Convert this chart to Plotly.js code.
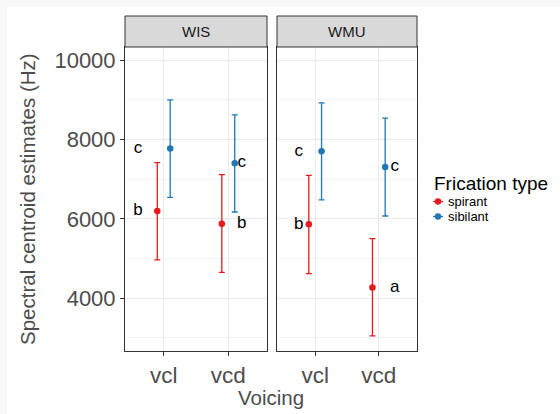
<!DOCTYPE html>
<html>
<head>
<meta charset="utf-8">
<script src="https://cdn.plot.ly/plotly-3.0.1.min.js"></script>
<style>
  html, body { margin: 0; padding: 0; background: #f8f8f8; width: 560px; height: 414px; overflow: hidden; }
  #chart { position: absolute; left: 7px; top: 7px; width: 553px; height: 407px; background: #ffffff; }
</style>
</head>
<body>
<div id="chart"></div>
<script>
// ---- data ----
const voicing = ['vcl', 'vcd'];
const sites = ['WIS', 'WMU'];
const fricTypes = ['spirant', 'sibilant'];

const wisSpirantMean  = [6200, 5880];
const wisSpirantLower = [4970, 4655];
const wisSpirantUpper = [7420, 7115];
const wisSibilantMean  = [7775, 7405];
const wisSibilantLower = [6545, 6175];
const wisSibilantUpper = [9000, 8625];

const wmuSpirantMean  = [5865, 4275];
const wmuSpirantLower = [4620, 3050];
const wmuSpirantUpper = [7100, 5505];
const wmuSibilantMean  = [7705, 7310];
const wmuSibilantLower = [6480, 6075];
const wmuSibilantUpper = [8925, 8540];

const wisSpirantLetters  = ['b', 'b'];
const wisSibilantLetters = ['c', 'c'];
const wmuSpirantLetters  = ['b', 'a'];
const wmuSibilantLetters = ['c', 'c'];

const yTicks = [4000, 6000, 8000, 10000];
const yMinorTicks = [3000, 5000, 7000, 9000];

// ---- styling / layout constants ----
const colors = { spirant: '#e41a1c', sibilant: '#1f78b4' };
const dodge = { spirant: -0.1, sibilant: 0.1 };
// letter horizontal shift from category centre, per panel and voicing
const letterDx = { WIS: [-0.4, 0.21], WMU: [-0.26, 0.25] };

const W = 553, H = 407;
const mL = 118, mR = 143, mT = 40, mB = 63;
const plotW = W - mL - mR, plotH = H - mT - mB;
const dom1 = [0, 142 / plotW];
const dom2 = [152 / plotW, 1];
const stripH = 31 / plotH;

const series = {
  WIS: {
    spirant:  { mean: wisSpirantMean, lower: wisSpirantLower, upper: wisSpirantUpper, letters: wisSpirantLetters },
    sibilant: { mean: wisSibilantMean, lower: wisSibilantLower, upper: wisSibilantUpper, letters: wisSibilantLetters }
  },
  WMU: {
    spirant:  { mean: wmuSpirantMean, lower: wmuSpirantLower, upper: wmuSpirantUpper, letters: wmuSpirantLetters },
    sibilant: { mean: wmuSibilantMean, lower: wmuSibilantLower, upper: wmuSibilantUpper, letters: wmuSibilantLetters }
  }
};

const font = 'Liberation Sans, Arial, sans-serif';
const traces = [];
sites.forEach((site, si) => {
  const xa = si === 0 ? 'x' : 'x2';
  const ya = si === 0 ? 'y' : 'y2';
  fricTypes.forEach(ft => {
    const s = series[site][ft];
    const xs = voicing.map((v, i) => i + 1 + dodge[ft]);
    traces.push({
      type: 'scatter', mode: 'markers', xaxis: xa, yaxis: ya,
      x: xs, y: s.mean, name: ft, showlegend: false,
      marker: { color: colors[ft], size: 6.5 },
      error_y: {
        type: 'data', symmetric: false,
        array: s.mean.map((m, i) => s.upper[i] - m),
        arrayminus: s.mean.map((m, i) => m - s.lower[i]),
        color: colors[ft], thickness: 1.3, width: 3
      },
      hoverinfo: 'x+y'
    });
    traces.push({
      type: 'scatter', mode: 'text', xaxis: xa, yaxis: ya,
      x: voicing.map((v, i) => i + 1 + letterDx[site][i]),
      y: s.mean, text: s.letters, textposition: 'middle center',
      textfont: { family: font, size: 17, color: '#000000' },
      showlegend: false, hoverinfo: 'skip'
    });
  });
});

const xAxisBase = {
  range: [0.4, 2.6], tickvals: [1, 2], ticktext: voicing,
  showgrid: true, gridcolor: '#ebebeb', gridwidth: 1,
  ticks: 'outside', ticklen: 4, tickcolor: '#333333', tickwidth: 1,
  showline: true, mirror: true, linecolor: '#333333', linewidth: 1,
  zeroline: false, fixedrange: true,
  tickfont: { family: font, size: 22.5, color: '#4d4d4d' }
};
const yAxisBase = {
  range: [2671, 10335], tickvals: yTicks, ticktext: yTicks.map(String),
  showgrid: true, gridcolor: '#ebebeb', gridwidth: 1,
  minor: { tickvals: yMinorTicks, showgrid: true, gridcolor: '#f3f3f3', gridwidth: 1, ticks: '' },
  showline: true, mirror: true, linecolor: '#333333', linewidth: 1,
  zeroline: false, fixedrange: true,
  tickfont: { family: font, size: 22, color: '#4d4d4d' }
};

const shapes = [];
const annotations = [];
sites.forEach((site, si) => {
  const d = si === 0 ? dom1 : dom2;
  shapes.push({
    type: 'rect', xref: 'paper', yref: 'paper', x0: d[0], x1: d[1], y0: 1, y1: 1 + stripH,
    fillcolor: '#d9d9d9', line: { color: '#333333', width: 1 }, layer: 'above'
  });
  annotations.push({
    xref: 'paper', yref: 'paper', x: (d[0] + d[1]) / 2, y: 1 + stripH / 2,
    text: site, showarrow: false, xanchor: 'center', yanchor: 'middle',
    font: { family: font, size: 15, color: '#1a1a1a' }
  });
});

// axis titles
annotations.push({
  xref: 'paper', yref: 'paper', x: 0.5, y: 0, yshift: -46, xanchor: 'center', yanchor: 'middle',
  text: 'Voicing', showarrow: false, font: { family: font, size: 20.5, color: '#4d4d4d' }
});
annotations.push({
  xref: 'paper', yref: 'paper', x: 0, y: 0.5, xshift: -98, xanchor: 'center', yanchor: 'middle',
  textangle: -90, text: 'Spectral centroid estimates (Hz)', showarrow: false,
  font: { family: font, size: 20.5, color: '#4d4d4d' }
});

// manual legend (ggplot style)
const legX = (425 - mL) / plotW;
const legTitleY = 1 - (177 - mT) / plotH;
annotations.push({
  xref: 'paper', yref: 'paper', x: legX, y: legTitleY, xanchor: 'left', yanchor: 'middle',
  text: 'Frication type', showarrow: false, font: { family: font, size: 19, color: '#000000' }
});
fricTypes.forEach((ft, i) => {
  const yPix = 194.5 + i * 15;
  const yp = 1 - (yPix - mT) / plotH;
  const gx0 = (426 - mL) / plotW, gx1 = (436 - mL) / plotW, gxc = (431 - mL) / plotW;
  shapes.push({ type: 'line', xref: 'paper', yref: 'paper', x0: gx0, x1: gx1, y0: yp, y1: yp,
    line: { color: colors[ft], width: 1.3 } });
  shapes.push({ type: 'circle', xref: 'paper', yref: 'paper', xsizemode: 'pixel', ysizemode: 'pixel',
    xanchor: gxc, yanchor: yp, x0: -3.2, x1: 3.2, y0: -3.2, y1: 3.2,
    fillcolor: colors[ft], line: { color: colors[ft], width: 0 } });
  annotations.push({
    xref: 'paper', yref: 'paper', x: (439 - mL) / plotW, y: yp, xanchor: 'left', yanchor: 'middle',
    text: ft, showarrow: false, font: { family: font, size: 13, color: '#000000' }
  });
});

const layout = {
  width: W, height: H,
  margin: { l: mL, r: mR, t: mT, b: mB, pad: 0 },
  paper_bgcolor: '#ffffff', plot_bgcolor: '#ffffff',
  showlegend: false,
  xaxis: Object.assign({}, xAxisBase, { domain: dom1, anchor: 'y' }),
  xaxis2: Object.assign({}, xAxisBase, { domain: dom2, anchor: 'y2' }),
  yaxis: Object.assign({}, yAxisBase, { anchor: 'x', ticks: 'outside', ticklen: 4, tickcolor: '#333333' }),
  yaxis2: Object.assign({}, yAxisBase, { anchor: 'x2', matches: 'y', showticklabels: false, ticks: '' }),
  shapes: shapes,
  annotations: annotations,
  font: { family: font }
};

Plotly.newPlot('chart', traces, layout, { displayModeBar: false, staticPlot: true });
</script>
</body>
</html>
